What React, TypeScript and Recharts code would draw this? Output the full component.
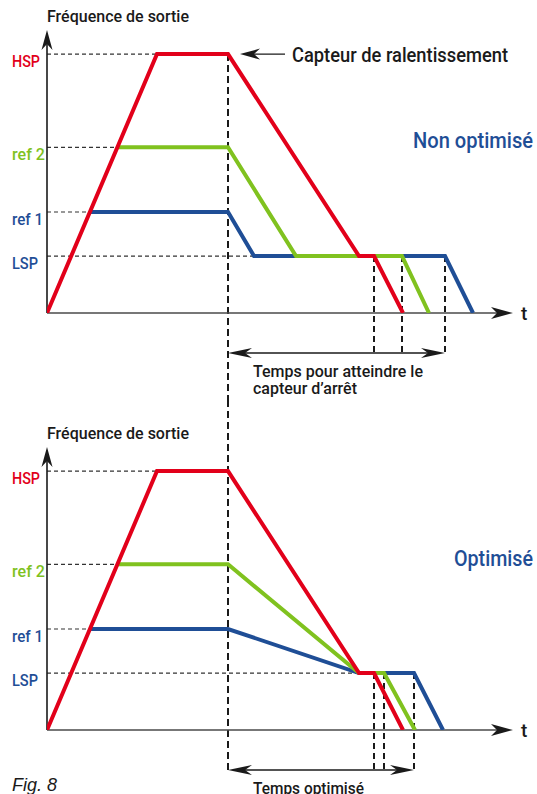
import React from 'react';
import { LineChart, Line, XAxis, YAxis, ReferenceLine } from 'recharts';

// frequency levels on the vertical axis
const levelValues = [22, 39, 64, 100];
const levelLabels = ['LSP', 'ref 1', 'ref 2', 'HSP'];
const LSP = 22;

// time of the slow-down sensor
const sensorT = 18.1;

// Non optimisé
const redTop = [
  { t: 0, f: 0 },
  { t: 11, f: 100 },
  { t: 18.1, f: 100 },
  { t: 31.2, f: 22 },
  { t: 32.7, f: 22 },
  { t: 35.6, f: 0 },
];
const greenTop = [
  { t: 7.0, f: 64 },
  { t: 18.1, f: 64 },
  { t: 24.9, f: 22 },
  { t: 35.5, f: 22 },
  { t: 38.2, f: 0 },
];
const blueTop = [
  { t: 4.3, f: 39 },
  { t: 18.1, f: 39 },
  { t: 20.7, f: 22 },
  { t: 39.8, f: 22 },
  { t: 42.6, f: 0 },
];

// Optimisé
const redBottom = [
  { t: 0, f: 0 },
  { t: 11, f: 100 },
  { t: 18.1, f: 100 },
  { t: 31.2, f: 22 },
  { t: 32.7, f: 22 },
  { t: 35.6, f: 0 },
];
const greenBottom = [
  { t: 7.0, f: 64 },
  { t: 18.1, f: 64 },
  { t: 31.2, f: 22 },
  { t: 33.7, f: 22 },
  { t: 36.8, f: 0 },
];
const blueBottom = [
  { t: 4.3, f: 39 },
  { t: 18.1, f: 39 },
  { t: 31.2, f: 22 },
  { t: 36.7, f: 22 },
  { t: 39.6, f: 0 },
];

const T_MAX = 46.6;
const F_MAX = 109.3;

const RED = '#e2001a';
const GREEN = '#80c21f';
const BLUE = '#1f4e96';
const INK = '#1a1a1a';
const AXIS = '#4a4a4a';
const levelColors = [BLUE, BLUE, GREEN, RED];
const levelWidths = [26, 31, 33, 28];

const FONT = "Roboto, 'Liberation Sans Narrow', 'DejaVu Sans Condensed', sans-serif";
const DIM_DROP = 40; // dimension arrow below the t axis

function arrow(x: number, y: number, dx: number, dy: number, len: number, hw: number, notch: number) {
  const nx = -dy;
  const ny = dx;
  const pts = [
    [x, y],
    [x - dx * len + nx * hw, y - dy * len + ny * hw],
    [x - dx * notch, y - dy * notch],
    [x - dx * len - nx * hw, y - dy * len - ny * hw],
  ];
  return pts.map((p) => p.join(',')).join(' ');
}

function plateauEnd(s: { t: number; f: number }[]) {
  const flat = s.filter((p) => p.f === LSP);
  return flat[flat.length - 1].t;
}

function plateauStart(series: { t: number; f: number }[][]) {
  return Math.min(...series.map((s) => s.filter((p) => p.f === LSP)[0].t));
}

function LevelTick(props: any) {
  const { y, payload } = props;
  const i = levelValues.indexOf(payload.value);
  return (
    <text
      x={12}
      y={y + 13}
      fill={levelColors[i]}
      fontSize={17}
      fontWeight={500}
      fontFamily={FONT}
      textLength={levelWidths[i]}
      lengthAdjust="spacingAndGlyphs"
    >
      {levelLabels[i]}
    </text>
  );
}

function Panel(props: any) {
  const { red, green, blue, height, marginTop, title, dimLines, isFirst } = props;
  const ends = [plateauEnd(red), plateauEnd(green), plateauEnd(blue)];
  const lspStart = plateauStart([red, green, blue]);
  const guideEnds = [lspStart, blue[0].t, green[0].t, red[1].t];
  const bottomMargin = height - (marginTop + 283);

  return (
    <LineChart
      width={537}
      height={height}
      margin={{ top: marginTop, right: 24, bottom: bottomMargin, left: 0 }}
      style={{ fontFamily: FONT, fontWeight: 500 }}
    >
      <XAxis type="number" dataKey="t" domain={[0, T_MAX]} allowDataOverflow hide />
      <YAxis
        type="number"
        domain={[0, F_MAX]}
        allowDataOverflow
        ticks={levelValues}
        width={47}
        axisLine={false}
        tickLine={false}
        tick={<LevelTick />}
        interval={0}
      />

      {levelValues.map((v, i) => (
        <ReferenceLine
          key={'g' + v}
          segment={[
            { x: 0, y: v },
            { x: guideEnds[i], y: v },
          ]}
          stroke="#333"
          strokeWidth={1.2}
          strokeDasharray="4 3"
          ifOverflow="visible"
        />
      ))}

      {/* slow-down sensor */}
      <ReferenceLine
        segment={[
          { x: sensorT, y: 100 },
          { x: sensorT, y: 0 },
        ]}
        ifOverflow="visible"
        shape={(p: any) => (
          <g>
            <line
              x1={p.x1}
              y1={isFirst ? p.y1 : 0}
              x2={p.x1}
              y2={isFirst ? height : p.y2 + DIM_DROP}
              stroke={INK}
              strokeWidth={2}
              strokeDasharray="7 4"
            />
            {isFirst && (
              <g>
                <line x1={p.x1 + 20} y1={p.y1} x2={p.x1 + 57} y2={p.y1} stroke={INK} strokeWidth={1.3} />
                <polygon points={arrow(p.x1 + 12, p.y1, -1, 0, 20, 5.5, 14)} fill={INK} />
                <text
                  x={p.x1 + 64}
                  y={p.y1 + 8}
                  fontSize={21}
                  fill={INK}
                  textLength={216}
                  lengthAdjust="spacingAndGlyphs"
                >
                  Capteur de ralentissement
                </text>
              </g>
            )}
          </g>
        )}
      />

      {ends.map((e, i) => (
        <ReferenceLine
          key={'m' + i}
          segment={[
            { x: e, y: LSP },
            { x: e, y: 0 },
          ]}
          ifOverflow="visible"
          shape={(p: any) => (
            <line x1={p.x1} y1={p.y1} x2={p.x1} y2={p.y2 + DIM_DROP} stroke={INK} strokeWidth={2} strokeDasharray="6 4" />
          )}
        />
      ))}

      {/* dimension arrow */}
      <ReferenceLine
        segment={[
          { x: sensorT, y: 0 },
          { x: Math.max(...ends), y: 0 },
        ]}
        ifOverflow="visible"
        shape={(p: any) => {
          const y = p.y1 + DIM_DROP;
          return (
            <g>
              <line x1={p.x1 + 10} y1={y} x2={p.x2 - 10} y2={y} stroke={INK} strokeWidth={1.3} />
              <polygon points={arrow(p.x1, y, -1, 0, 24, 5, 17)} fill={INK} />
              <polygon points={arrow(p.x2, y, 1, 0, 24, 5, 17)} fill={INK} />
              {dimLines.map((d: any, i: number) => (
                <text
                  key={i}
                  x={p.x1 + 25}
                  y={y + 24 + i * 17}
                  fontSize={17}
                  fill={INK}
                  textLength={d.w}
                  lengthAdjust="spacingAndGlyphs"
                >
                  {d.text}
                </text>
              ))}
            </g>
          );
        }}
      />

      {/* axes */}
      <ReferenceLine
        segment={[
          { x: 0, y: 0 },
          { x: T_MAX, y: 0 },
        ]}
        ifOverflow="visible"
        shape={(p: any) => (
          <g>
            <line x1={p.x1} y1={p.y1} x2={p.x2 - 12} y2={p.y2} stroke={AXIS} strokeWidth={1.6} />
            <polygon points={arrow(p.x2, p.y2, 1, 0, 22, 6, 16)} fill={INK} />
            <text x={p.x2 + 8} y={p.y2 + 7} fontSize={19} fill={INK}>
              t
            </text>
          </g>
        )}
      />
      <ReferenceLine
        segment={[
          { x: 0, y: 0 },
          { x: 0, y: F_MAX },
        ]}
        ifOverflow="visible"
        shape={(p: any) => (
          <g>
            <line x1={p.x1} y1={p.y1} x2={p.x2} y2={p.y2 + 12} stroke={INK} strokeWidth={1.6} />
            <polygon points={arrow(p.x2, p.y2, 0, -1, 20, 5.5, 14)} fill={INK} />
            <text
              x={p.x2}
              y={p.y2 - 8}
              fontSize={17}
              fill={INK}
              textLength={142}
              lengthAdjust="spacingAndGlyphs"
            >
              Fréquence de sortie
            </text>
          </g>
        )}
      />

      <Line data={blue} dataKey="f" type="linear" stroke={BLUE} strokeWidth={4} dot={false} isAnimationActive={false} />
      <Line data={green} dataKey="f" type="linear" stroke={GREEN} strokeWidth={4} dot={false} isAnimationActive={false} />
      <Line data={red} dataKey="f" type="linear" stroke={RED} strokeWidth={4} dot={false} isAnimationActive={false} />

      <text
        x={title.x}
        y={title.y}
        fontSize={22}
        fill={BLUE}
        textLength={title.w}
        lengthAdjust="spacingAndGlyphs"
      >
        {title.text}
      </text>
      {!isFirst && (
        <text
          x={12}
          y={391}
          fontSize={18}
          fontWeight={400}
          fill={INK}
          fontStyle="italic"
          fontFamily="'Liberation Sans', Arial, sans-serif"
        >
          Fig. 8
        </text>
      )}
    </LineChart>
  );
}

export default function App() {
  return (
    <div style={{ position: 'absolute', left: 0, top: 0, width: 537, height: 794, background: '#fff' }}>
      <Panel
        red={redTop}
        green={greenTop}
        blue={blueTop}
        height={400}
        marginTop={30}
        isFirst
        title={{ text: 'Non optimisé', x: 413, y: 148, w: 120 }}
        dimLines={[
          { text: 'Temps pour atteindre le', w: 170 },
          { text: 'capteur d’arrêt', w: 104 },
        ]}
      />
      <Panel
        red={redBottom}
        green={greenBottom}
        blue={blueBottom}
        height={394}
        marginTop={47}
        title={{ text: 'Optimisé', x: 454, y: 166, w: 79 }}
        dimLines={[{ text: 'Temps optimisé', w: 111 }]}
      />
    </div>
  );
}
